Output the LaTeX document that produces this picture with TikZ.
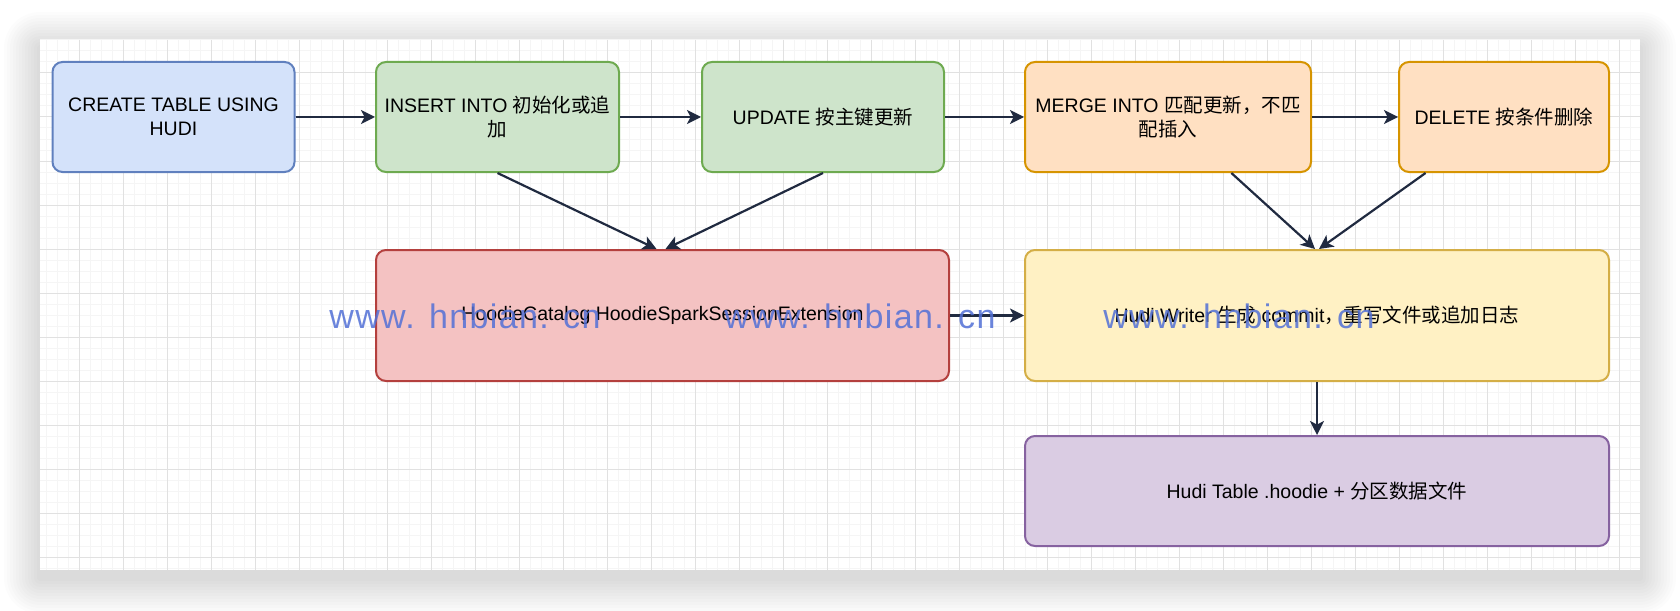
\documentclass[tikz,border=0pt]{standalone}
\usepackage{fontspec}
\setmainfont{Liberation Sans}
\newfontfamily\cjk{Noto Sans CJK SC}
\usepackage{xcolor}
\usepackage{tikz}
\usetikzlibrary{arrows.meta, calc}
\newcommand{\zh}[1]{{\cjk #1}}
\definecolor{mydark}{RGB}{32,42,64}
\definecolor{myblue}{RGB}{96,128,190}
\definecolor{mygreen}{RGB}{110,170,80}
\definecolor{myorange}{RGB}{214,148,0}
\definecolor{myred}{RGB}{180,64,62}
\definecolor{myyellow}{RGB}{212,174,70}
\definecolor{mypurple}{RGB}{134,98,160}
\definecolor{hdrblue}{RGB}{212,226,250}
\definecolor{hdrgreen}{RGB}{206,228,203}
\definecolor{hdrorange}{RGB}{255,224,194}
\definecolor{hdrred}{RGB}{244,194,194}
\definecolor{hdryellow}{RGB}{255,241,196}
\definecolor{hdrpurple}{RGB}{218,204,227}
\definecolor{gridlight}{RGB}{245,245,245}
\definecolor{griddark}{RGB}{225,225,225}
\definecolor{mywater}{RGB}{82,112,214}
\tikzset{
  block/.style={rectangle, rounded corners=5pt, line width=1pt,
    align=center, inner sep=2pt, text=black,
    font=\fontsize{9.75}{11.8}\selectfont},
  bluebox/.style={block, draw=myblue, fill=hdrblue},
  greenbox/.style={block, draw=mygreen, fill=hdrgreen},
  orangebox/.style={block, draw=myorange, fill=hdrorange},
  redbox/.style={block, draw=myred, fill=hdrred},
  yellowbox/.style={block, draw=myyellow, fill=hdryellow},
  purplebox/.style={block, draw=mypurple, fill=hdrpurple},
  arrow/.style={-{Stealth[length=7pt, width=7pt, inset=1.8pt]}, line width=1.1pt, color=mydark},
  gridminor/.style={line width=0.5pt, color=gridlight},
  gridmajor/.style={line width=0.5pt, color=griddark},
  watermark/.style={anchor=base, inner sep=0pt, text=mywater, opacity=0.85,
    font=\fontsize{17}{17}\selectfont\addfontfeature{LetterSpace=4}}
}
\begin{document}
\begin{tikzpicture}[x=0.5pt, y=-0.5pt]
  \useasboundingbox (0,0) rectangle (1680,610);

  % Soft shadow, then canvas with grid
  \foreach \i in {1,...,12}
    \fill[black, opacity=0.01, rounded corners=1.5*\i pt]
      (40-3*\i,48-3*\i) rectangle (1640+3*\i,578+3*\i);
  \fill[white] (40,40) rectangle (1640,570);
  \foreach \x in {46,57,...,1640} \draw[gridminor] (\x,40) -- (\x,570);
  \foreach \y in {40,51,...,570} \draw[gridminor] (40,\y) -- (1640,\y);
  \foreach \x in {79,123,...,1640} \draw[gridmajor] (\x,40) -- (\x,570);
  \foreach \y in {73,117,...,570} \draw[gridmajor] (40,\y) -- (1640,\y);

  % Top row of statements
  \node[bluebox, minimum width=121pt, minimum height=55pt] (create) at (173.5,117)
    {CREATE TABLE USING\\HUDI};
  \node[greenbox, minimum width=121.5pt, minimum height=55pt] (insert) at (497.5,117)
    {INSERT INTO \zh{初始化或追}\\\zh{加}};
  \node[greenbox, minimum width=121pt, minimum height=55pt] (update) at (823,117)
    {UPDATE \zh{按主键更新}};
  \node[orangebox, minimum width=143pt, minimum height=55pt] (merge) at (1168,117)
    {MERGE INTO \zh{匹配更新，不匹}\\\zh{配插入}};
  \node[orangebox, minimum width=105pt, minimum height=55pt] (delete) at (1504,117)
    {DELETE \zh{按条件删除}};

  % Catalog, writer and table
  \node[redbox, minimum width=286.5pt, minimum height=65.5pt] (catalog) at (662.5,315.5)
    {HoodieCatalog HoodieSparkSessionExtension};
  \node[yellowbox, minimum width=292pt, minimum height=65.5pt] (writer) at (1317,315.5)
    {Hudi Writer \zh{生成} commit\zh{，重写文件或追加日志}};
  \node[purplebox, minimum width=292pt, minimum height=55pt] (table) at (1317,491)
    {Hudi Table .hoodie + \zh{分区数据文件}};

  % Connectors
  \draw[arrow] (create) -- (insert);
  \draw[arrow] (insert) -- (update);
  \draw[arrow] (update) -- (merge);
  \draw[arrow] (merge) -- (delete);
  \draw[arrow] (insert.south) -- ([xshift=-3pt]catalog.north);
  \draw[arrow] (update.south) -- ([xshift=1.5pt]catalog.north);
  \draw[arrow] ($(merge.south west)!0.72!(merge.south east)$) -- ([xshift=-1pt]writer.north);
  \draw[arrow] ($(delete.south west)!0.13!(delete.south east)$) -- ([xshift=1pt]writer.north);
  \draw[arrow] (catalog) -- (writer);
  \draw[arrow] (writer) -- (table);

  % Watermarks
  \node[watermark] (wmA) at (465,328) {www. hnbian. cn};
  \node[watermark] (wmB) at (860,328) {www. hnbian. cn};
  \node[watermark] (wmC) at (1239,328) {www. hnbian. cn};
\end{tikzpicture}
\end{document}
